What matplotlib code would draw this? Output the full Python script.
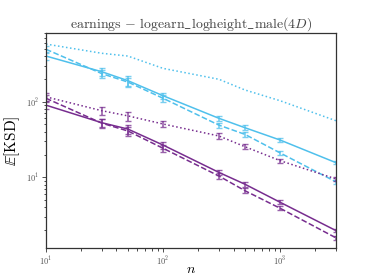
import matplotlib
matplotlib.use("Agg")
import matplotlib.pyplot as plt
import numpy as np

plt.rcParams['mathtext.fontset'] = 'cm'
plt.rcParams['font.family'] = 'serif'
plt.rcParams['font.serif'] = ['cmr10', 'DejaVu Serif']
plt.rcParams['axes.formatter.use_mathtext'] = True

n = [10, 30, 50, 100, 300, 500, 1000, 3000]

blue_solid = [402, 249, 190, 120, 60.3, 45.3, 31.1, 15.6]
blue_dashed = [494, 235, 182, 111, 49, 37, 21, 8.7]
blue_dotted = [579, 437, 402, 276, 198, 143, 103, 56]
purple_solid = [90, 52.7, 43.5, 26.7, 11.6, 8.1, 4.67, 1.97]
purple_dashed = [111, 52, 41, 24.2, 10.4, 6.65, 3.89, 1.58]
purple_dotted = [116, 76, 65, 50.7, 35.2, 25.4, 16.6, 9.5]

rel_err = [0.12, 0.13, 0.14, 0.10, 0.08, 0.07, 0.06, 0.05]

blue = '#4fc0ec'
purple = '#772d8f'

fig = plt.figure(figsize=(3.74, 2.8), dpi=100)
ax = fig.add_axes([46/374, 1-248/280, (336-46)/374, (248-33)/280])

series = [
    (blue_solid, blue, '-', True),
    (blue_dashed, blue, '--', True),
    (blue_dotted, blue, ':', False),
    (purple_solid, purple, '-', True),
    (purple_dashed, purple, '--', True),
    (purple_dotted, purple, ':', True),
]
for vals, c, ls, has_err in series:
    v = np.array(vals)
    err = v * np.array(rel_err)
    ax.plot(n, v, color=c, ls=ls, lw=1.1)
    if has_err:
        ax.errorbar(n, v, yerr=err, fmt='none', ecolor=c, elinewidth=1.2,
                    capsize=2.2, capthick=1.0, alpha=0.75)

ax.set_xscale('log')
ax.set_yscale('log')
ax.set_xlim(10, 3000)
ax.set_ylim(1.16, 811)
ax.set_title(r'$\mathrm{earnings}\,-\,\mathrm{logearn\_logheight\_male}(4D)$',
             fontsize=10, color='#444444', pad=4)
ax.set_xlabel(r'$n$', fontsize=10, labelpad=-3)
ax.set_ylabel(r'$\mathbb{E}[\mathrm{KSD}]$', fontsize=11, labelpad=3)
ax.tick_params(labelsize=6, colors='#333333', labelcolor='#555555', length=3, width=0.6, pad=2)
ax.tick_params(which='minor', length=1.8, width=0.5)
for s in ax.spines.values():
    s.set_color('#333333')
    s.set_linewidth(0.9)

fig.savefig('out.png', dpi=100)
